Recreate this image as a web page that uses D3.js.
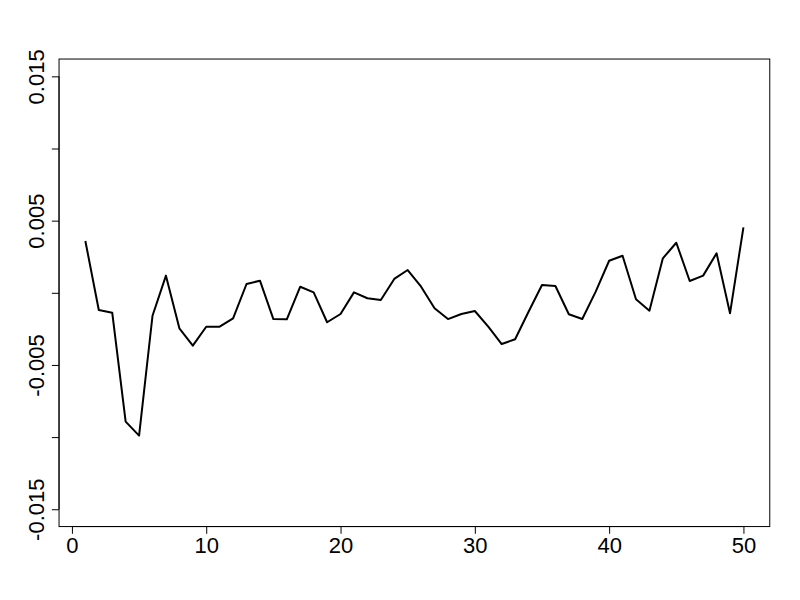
<!DOCTYPE html>
<html>
<head>
<meta charset="utf-8">
<script src="https://cdn.jsdelivr.net/npm/d3@7"></script>
<style>
  body { margin: 0; background: #fff; }
  text { font-family: "Liberation Sans", Arial, sans-serif; }
</style>
</head>
<body>
<script>
/* Series values (index 1..50) */
var xValues = d3.range(1, 51);
var yValues = [
  0.00359, -0.00119, -0.00138, -0.00893, -0.00990, -0.00159, 0.00119, -0.00246, -0.00366, -0.00235,
  -0.00235, -0.00177, 0.00061, 0.00084, -0.00182, -0.00184, 0.00042, 0.00003, -0.00204, -0.00147,
  0.00003, -0.00038, -0.00050, 0.00096, 0.00158, 0.00042, -0.00107, -0.00182, -0.00147, -0.00126,
  -0.00235, -0.00355, -0.00322, -0.00131, 0.00054, 0.00047, -0.00149, -0.00182, 0.00008, 0.00222,
  0.00257, -0.00045, -0.00124, 0.00239, 0.00347, 0.00082, 0.00119, 0.00274, -0.00142, 0.00454
];

/* Tick values */
var xTicks = [0, 10, 20, 30, 40, 50];
var yTicks = [-0.015, -0.01, -0.005, 0, 0.005, 0.01, 0.015];
var yLabelled = [-0.015, -0.005, 0.005, 0.015];

/* Define width and height, plot region like R defaults */
var width = 800,
    height = 600;
var plotLeft = 59.04, plotRight = 769.76, plotTop = 59.04, plotBottom = 526.56;

var svg = d3.select("body").append("svg")
    .attr("width", width)
    .attr("height", height);

/* Scales with the 4% padding R adds */
var xPad = (50 - 1) * 0.04;
var x = d3.scaleLinear()
    .domain([1 - xPad, 50 + xPad])
    .range([plotLeft, plotRight]);

var yPad = 0.03 * 0.04;
var y = d3.scaleLinear()
    .domain([-0.015 - yPad, 0.015 + yPad])
    .range([plotBottom, plotTop]);

/* Line */
var line = d3.line()
    .x(function(d, i) { return x(xValues[i]); })
    .y(function(d) { return y(d); });

svg.append("path")
    .datum(yValues)
    .attr("fill", "none")
    .attr("stroke", "#000")
    .attr("stroke-width", 2)
    .attr("stroke-linejoin", "round")
    .attr("d", line);

/* Box around plot */
svg.append("rect")
    .attr("x", plotLeft)
    .attr("y", plotTop)
    .attr("width", plotRight - plotLeft)
    .attr("height", plotBottom - plotTop)
    .attr("fill", "none")
    .attr("stroke", "#000")
    .attr("stroke-width", 1);

/* x axis */
var gx = svg.append("g")
    .attr("transform", "translate(0," + plotBottom + ")")
    .call(d3.axisBottom(x).tickValues(xTicks).tickSize(7.2).tickPadding(4)
        .tickFormat(d3.format("d")));
gx.select(".domain").attr("d", "M" + x(0) + ",0H" + x(50));
gx.selectAll(".tick text")
    .attr("font-size", 22)
    .attr("font-family", "Liberation Sans, Arial, sans-serif")
    .attr("fill", "#000");

/* y axis, with labels rotated as in R */
var gy = svg.append("g")
    .attr("transform", "translate(" + plotLeft + ",0)")
    .call(d3.axisLeft(y).tickValues(yTicks).tickSize(7.2)
        .tickFormat(function(d) {
            return yLabelled.indexOf(d) >= 0 ? d3.format(".3f")(d).replace("−", "-") : "";
        }));
gy.select(".domain").attr("d", "M0," + y(-0.015) + "V" + y(0.015));
gy.selectAll(".tick text")
    .attr("font-size", 22)
    .attr("font-family", "Liberation Sans, Arial, sans-serif")
    .attr("fill", "#000")
    .attr("text-anchor", "middle")
    .attr("dy", 0)
    .attr("x", 0)
    .attr("transform", "translate(-15,0) rotate(-90)");
</script>
</body>
</html>
